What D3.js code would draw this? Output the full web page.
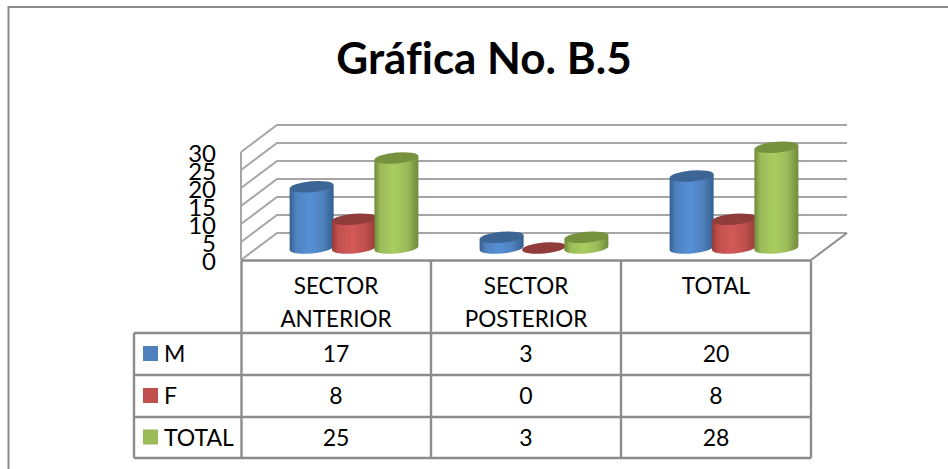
<!DOCTYPE html>
<html><head><meta charset="utf-8">
<script src="https://cdn.jsdelivr.net/npm/d3@7"></script>
<style>html,body{margin:0;padding:0;background:#fff}svg{display:block}text{font-family:Lato,"Open Sans",sans-serif;fill:#000;font-variant-ligatures:none}</style>
</head><body>
<svg id="c" width="948" height="469"></svg>
<script>
const title = "Gráfica No. B.5";
const categories = ["SECTOR ANTERIOR","SECTOR POSTERIOR","TOTAL"];
const categoryLines = [["SECTOR","ANTERIOR"],["SECTOR","POSTERIOR"],["TOTAL"]];
const seriesNames = ["M","F","TOTAL"];
const valuesM = [17,3,20];
const valuesF = [8,0,8];
const valuesTotal = [25,3,28];
const yTicks = [0,5,10,15,20,25,30];
const seriesColors = ["#4f81bd","#c0504d","#9bbb59"];
const seriesDark = ["#3c6595","#8f3c3a","#76923f"];
const seriesLight = ["#5590d6","#d25a58","#a9cc60"];
const seriesShade = ["#34608f","#953c3a","#708a3b"];
const series = [valuesM,valuesF,valuesTotal];

const svg = d3.select("#c");
const gray = "#8c8c8c";
const defs = svg.append("defs");
seriesColors.forEach((c,i)=>{
  const g = defs.append("linearGradient").attr("id","g"+i);
  [[0,seriesShade[i]],[.14,seriesColors[i]],[.45,seriesLight[i]],[.75,seriesColors[i]],[1,seriesShade[i]]]
    .forEach(s=>g.append("stop").attr("offset",s[0]).attr("stop-color",s[1]));
});

// outer frame: left and top edges only
svg.append("path").attr("d","M8.5,469V7H948").attr("fill","none").attr("stroke",gray).attr("stroke-width",2);
svg.append("text").attr("x",484).attr("y",74).attr("text-anchor","middle")
  .attr("font-size",44).attr("font-weight",700).text(title);

// scales
const colX = d3.scaleBand().domain(categories).range([241,811]);
const y = d3.scaleLinear().domain([0,30]).range([233,125]);     // back wall
const yFront = d3.scaleLinear().domain([0,30]).range([260,152]); // front wall labels
const h = d3.scaleLinear().domain([0,30]).range([0,108]);
const depth = 36;

// walls and gridlines
const grid = svg.append("g").attr("fill","none").attr("stroke","#a6a6a6").attr("stroke-width",2);
yTicks.forEach(t=>{
  grid.append("path").attr("d",`M${colX.range()[0]},${yFront(t)}L${colX.range()[0]+depth},${y(t)}H${colX.range()[1]+depth}`);
});
grid.append("path").attr("d",`M241,${yFront(30)}V${yFront(0)}`);
grid.append("path").attr("d",`M${811+depth},${y(0)}L811,${yFront(0)}`).attr("stroke",gray);

// y labels
svg.append("g").selectAll("text").data(yTicks).join("text")
  .attr("x",216).attr("y",t=>yFront(t)+9.5).attr("text-anchor","end").attr("font-size",24)
  .text(d=>d);

// bars
const inner = d3.scaleBand().domain(d3.range(3)).range([49,177]).paddingInner(-0.02);
const base = 248, rx = 22, ry = 5.5, tilt = -5;
const dy = rx*Math.sin(-tilt*Math.PI/180);
const barG = svg.append("g");
categories.forEach((cat,ci)=>{
  series.forEach((vals,si)=>{
    const v = vals[ci];
    const cx = colX(cat)+inner(si)+inner.bandwidth()/2;
    const top = base-h(v);
    const g = barG.append("g");
    if (v>0) {
      g.append("path").attr("fill",`url(#g${si})`)
        .attr("d",`M${cx-rx},${top+dy}V${base+dy}A${rx},${ry} ${tilt} 0 0 ${cx+rx},${base-dy}V${top-dy}Z`);
    }
    g.append("ellipse").attr("cx",cx).attr("cy",top)
      .attr("rx",rx).attr("ry",ry)
      .attr("transform",`rotate(${tilt} ${cx} ${top})`)
      .attr("fill",seriesDark[si]);
  });
});

// data table
const rowY = [260.5,333,375,417,458];
const tbl = svg.append("g").attr("fill","none").attr("stroke",gray).attr("stroke-width",2.4);
const colEdges = [241.5,431,621,811];
colEdges.forEach(x=>tbl.append("line").attr("x1",x).attr("x2",x).attr("y1",rowY[0]).attr("y2",rowY[4]));
tbl.append("line").attr("x1",134).attr("x2",134).attr("y1",rowY[1]).attr("y2",rowY[4]);
rowY.slice(1).forEach(yy=>tbl.append("line").attr("x1",134).attr("x2",811).attr("y1",yy).attr("y2",yy));
tbl.append("line").attr("x1",241).attr("x2",811).attr("y1",rowY[0]).attr("y2",rowY[0]);

categoryLines.forEach((lines,ci)=>{
  lines.forEach((l,li)=>svg.append("text").attr("x",colX(categories[ci])+colX.bandwidth()/2)
    .attr("y",294+li*33).attr("text-anchor","middle").attr("font-size",22.5).text(l));
});
seriesNames.forEach((n,si)=>{
  const ry0 = rowY[si+1], cy = (ry0+rowY[si+2])/2;
  svg.append("rect").attr("x",143).attr("y",cy-8).attr("width",15).attr("height",15).attr("fill",seriesColors[si]);
  svg.append("text").attr("x",164).attr("y",cy+8).attr("font-size",23).text(n);
  series[si].forEach((v,ci)=>svg.append("text").attr("x",colX(categories[ci])+colX.bandwidth()/2)
    .attr("y",cy+8).attr("text-anchor","middle").attr("font-size",23).text(v));
});
</script>
</body></html>
